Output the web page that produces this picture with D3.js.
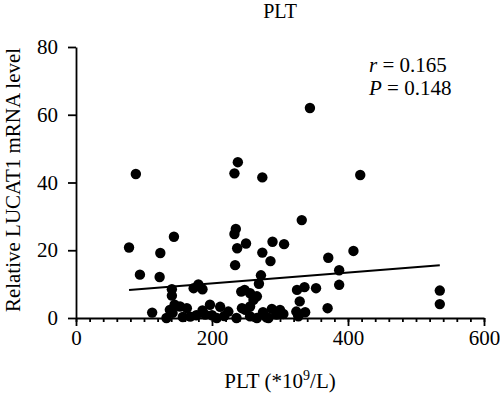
<!DOCTYPE html>
<meta charset="utf-8">
<style>
body { margin: 0; background: #fff; }
svg text { font-family: "Liberation Serif", "Times New Roman", serif !important; fill: #000; }
.axis path, .axis line { stroke: #000; stroke-width: 1.8px; }
</style>
<svg width="500" height="395"></svg>
<script src="https://cdn.jsdelivr.net/npm/d3@7"></script>
<script>

// PLT (*10^9/L) vs relative LUCAT1 mRNA level
var pltValues = [78, 88, 94, 112, 124, 123, 144, 141, 141, 133,
  138, 145, 153, 157, 163, 173, 180, 186, 177, 190,
  197, 200, 207, 212, 224, 233, 238, 235, 233, 237,
  250, 234, 236, 244, 243, 248, 256, 266, 261, 256,
  249, 256, 274, 274, 289, 286, 272, 269, 275, 266,
  280, 288, 295, 300, 305, 306, 332, 325, 336, 353,
  329, 324, 337, 371, 387, 387, 370, 408, 418, 344,
  535, 535, 283, 142, 168, 218, 186, 327]
var lucatValues = [20.8, 42.5, 12.8, 1.6, 19.2, 12.1, 24, 8.5, 6.6, 0,
  2.4, 3.9, 3.4, 0.3, 2.9, 8.8, 9.9, 8.5, 0.8, 1,
  3.9, 0.8, 0, 3.3, 1.9, 42.7, 46, 26.3, 24.8, 20.6,
  22, 15.6, 0, 2.9, 7.8, 8.3, 7.3, 6.4, 5.4, 3.4,
  2.4, 0.5, 41.5, 19.3, 22.5, 16.8, 12.6, 10.1, 1.7, 0,
  0.2, 2.7, 1, 2.4, 1.2, 21.8, 28.9, 8.3, 9.1, 8.8,
  4.9, 1.9, 1.7, 17.8, 14.1, 9.8, 2.9, 19.8, 42.2, 62,
  8.1, 4.1, 0, 1.5, 0.4, 0.6, 2.2, 0.5]

// fitted line ends
var fitX = [78, 535]
var fitY = [8.3, 15.6]

var xTicks = [0, 200, 400, 600]
var yTicks = [0, 20, 40, 60, 80]
var statLines = [["r", " = 0.165"], ["P", " = 0.148"]]

var serif = "'Liberation Serif', 'Times New Roman', serif"
var svg = d3.select("svg")

var x = d3.scaleLinear().domain([0, 600]).range([76, 484])
var y = d3.scaleLinear().domain([0, 80]).range([318, 47])

// minor ticks every 20 along x
svg.append("g")
    .attr("class", "axis")
    .attr("transform", "translate(0,318)")
    .call(d3.axisBottom(x).tickValues(d3.range(0, 601, 20)).tickSize(4).tickSizeOuter(0).tickFormat(""))
    .select(".domain").remove()

var gx = svg.append("g")
    .attr("class", "axis")
    .attr("transform", "translate(0,318)")
    .call(d3.axisBottom(x).tickValues(xTicks).tickSize(8).tickSizeOuter(0).tickPadding(4))

var gy = svg.append("g")
    .attr("class", "axis")
    .attr("transform", "translate(76,0)")
    .call(d3.axisLeft(y).tickValues(yTicks).tickSize(8).tickSizeOuter(0).tickPadding(10))

gx.attr("font-family", serif).attr("font-size", 21)
gy.attr("font-family", serif).attr("font-size", 21)
svg.selectAll(".axis text").attr("fill", "#000")

// points
svg.append("g")
  .selectAll("circle")
  .data(pltValues)
  .enter().append("circle")
    .attr("cx", function(d) { return x(d) })
    .attr("cy", function(d, i) { return y(lucatValues[i]) })
    .attr("r", 5.2)
    .attr("fill", "#000")

// regression line
svg.append("line")
    .attr("x1", x(fitX[0])).attr("y1", y(fitY[0]))
    .attr("x2", x(fitX[1])).attr("y2", y(fitY[1]))
    .attr("stroke", "#000")
    .attr("stroke-width", 2)

// title
svg.append("text")
    .attr("x", 280).attr("y", 18)
    .attr("text-anchor", "middle")
    .style("font-size", "20px")
    .text("PLT")

// stats
svg.selectAll(".stat")
  .data(statLines)
  .enter().append("text")
    .attr("class", "stat")
    .attr("x", 369)
    .attr("y", function(d, i) { return 72 + i * 23 })
    .style("font-size", "21px")
    .each(function(d) {
      var t = d3.select(this)
      t.append("tspan").style("font-style", "italic").text(d[0])
      t.append("tspan").text(d[1])
    })

// x label
var xl = svg.append("text")
    .attr("x", 280).attr("y", 388)
    .attr("text-anchor", "middle")
    .style("font-size", "21px")
xl.append("tspan").text("PLT (*10")
xl.append("tspan").attr("dy", -8).style("font-size", "14px").text("9")
xl.append("tspan").attr("dy", 8).text("/L)")

// y label
svg.append("text")
    .attr("transform", "translate(20,180) rotate(-90)")
    .attr("text-anchor", "middle")
    .style("font-size", "21px")
    .text("Relative LUCAT1 mRNA level")

</script>
